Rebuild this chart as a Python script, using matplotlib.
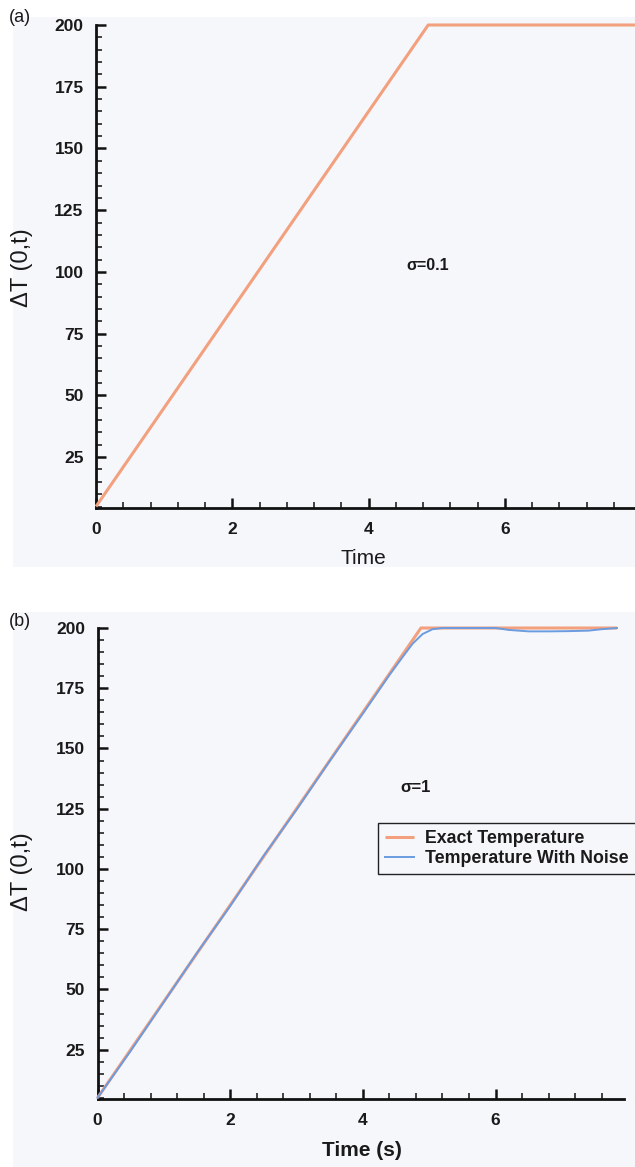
import matplotlib
matplotlib.use('Agg')
import matplotlib.pyplot as plt
from matplotlib.ticker import MultipleLocator, FixedLocator
from matplotlib.patches import Rectangle

plt.rcParams['font.family'] = ['Liberation Sans', 'DejaVu Sans']

W, H = 635, 1167

# ---------------- data ----------------
time_exact_a = [0.0, 4.875, 7.95]
temp_exact_a = [5.0, 200.0, 200.0]

time_exact_b = [0.0, 4.875, 7.83]
temp_exact_b = [5.0, 200.0, 200.0]

time_noise_b = [0.0, 0.5, 1.0, 1.5, 2.0, 2.5, 3.0, 3.5, 4.0, 4.4, 4.6, 4.75,
                4.9, 5.05, 5.2, 5.6, 6.0, 6.2, 6.5, 6.8, 7.1, 7.4, 7.6, 7.83]
temp_noise_b = [5.0, 24.5, 44.8, 65.2, 84.6, 105.3, 124.6, 144.8, 164.5, 180.5,
                188.0, 193.5, 197.5, 199.5, 200.0, 200.0, 200.0, 199.2, 198.6,
                198.6, 198.7, 198.9, 199.5, 200.0]

x_major = [0, 2, 4, 6]
y_major = [25, 50, 75, 100, 125, 150, 175, 200]

sigma_a = "σ=0.1"
sigma_b = "σ=1"

ORANGE = '#f2a07e'
BLUE = '#6b9be0'
BG = '#f6f7fb'

fig = plt.figure(figsize=(W / 100, H / 100), dpi=100)
fig.patch.set_facecolor('white')

# light panel backgrounds
for (x0, y0, x1, y1) in [(13, 17, 635, 567), (13, 612, 635, 1167)]:
    fig.patches.append(Rectangle((x0 / W, 1 - y1 / H), (x1 - x0) / W, (y1 - y0) / H,
                                 transform=fig.transFigure, facecolor=BG,
                                 edgecolor='none', zorder=-5))


def make_axes(left, top, right, bottom, xmax):
    ax = fig.add_axes([left / W, 1 - bottom / H, (right - left) / W, (bottom - top) / H])
    ax.set_zorder(2)
    ax.set_facecolor('none')
    ax.set_xlim(0, xmax)
    ax.set_ylim(4.4, 200)
    for s in ['top', 'right']:
        ax.spines[s].set_visible(False)
    for s in ['left', 'bottom']:
        ax.spines[s].set_linewidth(2.0)
        ax.spines[s].set_color('#111111')
    ax.xaxis.set_major_locator(FixedLocator(x_major))
    ax.yaxis.set_major_locator(FixedLocator(y_major))
    ax.xaxis.set_minor_locator(MultipleLocator(0.4))
    ax.yaxis.set_minor_locator(MultipleLocator(5))
    ax.tick_params(which='major', direction='in', length=7.5, width=1.8, color='#111111')
    ax.tick_params(which='minor', direction='in', length=4, width=1.1, color='#111111')
    ax.tick_params(axis='y', which='major', pad=9.0)
    ax.tick_params(axis='x', which='major', pad=10)
    for lab in ax.get_xticklabels() + ax.get_yticklabels():
        lab.set_fontsize(12.5)
        lab.set_fontweight('bold')
        lab.set_color('#1a1a1a')
    return ax


# ---------------- panel (a) ----------------
ax_a = make_axes(96, 25, 635, 508, 7.91)
ax_a.plot(time_exact_a, temp_exact_a, color=ORANGE, lw=2.2, clip_on=False,
          solid_capstyle='butt', zorder=3)

# ---------------- panel (b) ----------------
ax_b = make_axes(97.5, 628, 623.6, 1099.3, 7.93)
ln1, = ax_b.plot(time_exact_b, temp_exact_b, color=ORANGE, lw=2.2, clip_on=False,
                 solid_capstyle='butt', zorder=3, label='Exact Temperature')
ln2, = ax_b.plot(time_noise_b, temp_noise_b, color=BLUE, lw=1.4, clip_on=False,
                 zorder=4, label='Temperature With Noise')
leg = ax_b.legend(handles=[ln1, ln2], loc='upper left',
                  bbox_to_anchor=(378 / W, 1 - 823 / H), bbox_transform=fig.transFigure,
                  prop={'size': 12.8, 'weight': 'bold'}, frameon=True, fancybox=False,
                  framealpha=1, handlelength=1.6, handletextpad=0.65, borderpad=0.4,
                  labelspacing=0.15, borderaxespad=0)
leg.get_frame().set_edgecolor('#222222')
leg.get_frame().set_linewidth(1.0)
leg.get_frame().set_facecolor(BG)
for t in leg.get_texts():
    t.set_color('#1a1a1a')

# ---------------- text labels (pixel positions) ----------------
def ftext(x, y, s, **kw):
    fig.text(x / W, 1 - y / H, s, ha='center', va='center', color='#1a1a1a', **kw)

ftext(20, 18, '(a)', fontsize=13)
ftext(20, 621, '(b)', fontsize=13)
ftext(22, 268, 'ΔT (0,t)', fontsize=17, rotation=90)
ftext(22, 872, 'ΔT (0,t)', fontsize=17, rotation=90)
ftext(363, 559, 'Time', fontsize=15)
ftext(362, 1150, 'Time (s)', fontsize=15, fontweight='bold')
ftext(428, 266, sigma_a, fontsize=11.5, fontweight='bold')
ftext(416, 787, sigma_b, fontsize=12, fontweight='bold')

fig.savefig('out.png', dpi=100, facecolor=fig.get_facecolor())
